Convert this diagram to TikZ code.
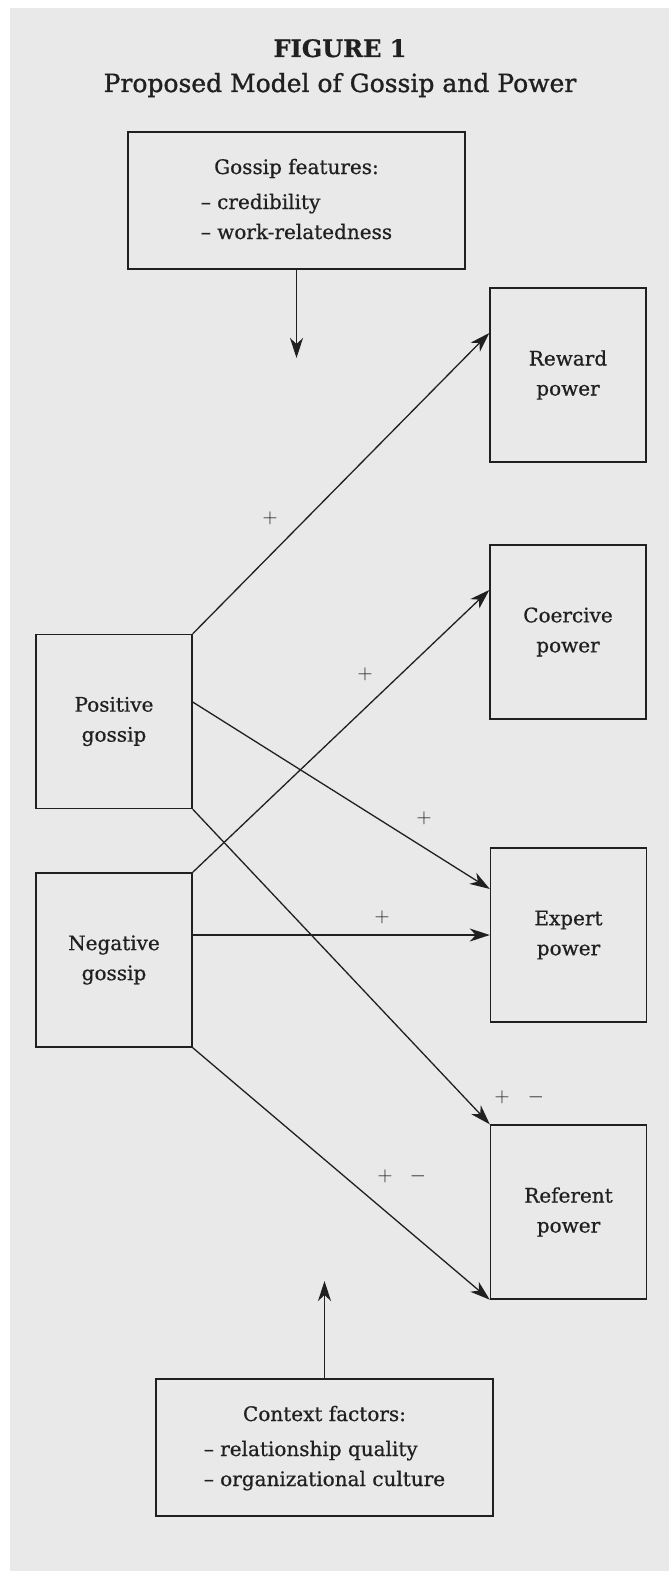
\documentclass[tikz,border=0pt]{standalone}
\usepackage{fontspec}
\setmainfont{DejaVu Serif}[FakeBold=0.7]
\newfontfamily\titlefont{DejaVu Serif}[FakeBold=1.2]
\usetikzlibrary{arrows.meta,calc}
\definecolor{bggray}{RGB}{233,233,233}
\definecolor{ink}{RGB}{32,32,32}
\begin{document}
\begin{tikzpicture}[x=1pt,y=-1pt,
  box/.style={draw=ink, line width=1.4pt, minimum width=156pt, minimum height=174pt,
    align=center, inner sep=0pt, text=ink, font=\fontsize{20}{30}\selectfont},
  wbox/.style={draw=ink, line width=1.4pt, minimum width=337pt, minimum height=137pt,
    inner sep=0pt, text=ink, font=\fontsize{20}{30}\selectfont},
  conn/.style={draw=ink, line width=1.3pt, -{Stealth[length=20pt,width=13pt,inset=6pt]}},
  sign/.style={font=\fontsize{20}{20}\selectfont, inner sep=0pt, text=ink}]
\useasboundingbox (0,0) rectangle (669,1571);
\fill[white] (0,0) rectangle (669,1571);
\fill[bggray] (10,8) rectangle (669,1571);

% title
\node[font=\fontsize{24}{24}\selectfont\bfseries, anchor=base, text=ink] (fig) at (340,57) {FIGURE 1};
\node[font=\fontsize{25}{25}\selectfont\titlefont, anchor=base, text=ink] (ttl) at (340,92) {Proposed Model of Gossip and Power};

% boxes
\node[wbox] (gf) at (296.5,200.5) {\begin{tabular}{@{}l@{}}\multicolumn{1}{@{}c@{}}{Gossip features:}\\[5pt] – credibility\\ – work-relatedness\end{tabular}};
\node[box] (rew) at (568,375) {Reward\\power};
\node[box] (coe) at (568,632) {Coercive\\power};
\node[box] (exp) at (568.5,935) {Expert\\power};
\node[box] (ref) at (568.5,1212) {Referent\\power};
\node[box] (pos) at (114,721.5) {Positive\\gossip};
\node[box] (neg) at (114,960) {Negative\\gossip};
\node[wbox] (ctx) at (324.5,1447.5) {\begin{tabular}{@{}l@{}}\multicolumn{1}{@{}c@{}}{Context factors:}\\[5pt] – relationship quality\\ – organizational culture\end{tabular}};

% free ends
\coordinate (gfend) at (296.5,358);
\coordinate (ctxend) at (324.5,1281);

% connectors
\draw[conn] (pos.north east) -- ([yshift=42pt]rew.west);
\draw[conn] (neg.north east) -- ([yshift=42pt]coe.west);
\draw[conn] ([yshift=19.5pt]pos.east) -- ([yshift=46pt]exp.west);
\draw[conn] (neg.east |- exp.west) -- (exp.west);
\draw[conn] (pos.south east) -- (ref.north west);
\draw[conn] (neg.south east) -- (ref.south west);
\draw[conn] (gf.south) -- (gfend);
\draw[conn] (ctx.north) -- (ctxend);

% signs
\node[sign] (s1) at (270,518) {$+$};
\node[sign] (s2) at (365,674) {$+$};
\node[sign] (s3) at (424,818) {$+$};
\node[sign] (s4) at (382,917) {$+$};
\node[sign] (s5) at (502,1097) {$+$};
\node[sign] (s6) at (536,1097) {$-$};
\node[sign] (s7) at (385,1176) {$+$};
\node[sign] (s8) at (418,1176) {$-$};
\end{tikzpicture}
\end{document}
